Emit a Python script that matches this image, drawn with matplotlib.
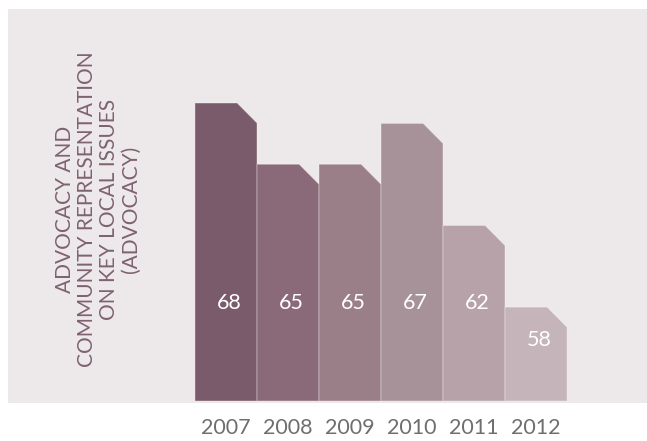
import matplotlib
matplotlib.use('Agg')
import matplotlib.pyplot as plt
from matplotlib.patches import Polygon, Rectangle

years = ['2007', '2008', '2009', '2010', '2011', '2012']
scores = [68, 65, 65, 67, 62, 58]
bar_colors = ['#7a5b6b', '#8a6a79', '#9a7f89', '#a89299', '#b8a2aa', '#c5b4ba']
ylabel_text = 'ADVOCACY AND\nCOMMUNITY REPRESENTATION\nON KEY LOCAL ISSUES\n(ADVOCACY)'

W, H = 647, 441
fig = plt.figure(figsize=(W / 100, H / 100), dpi=100, facecolor='white')

# grey panel behind the chart
fig.patches.append(Rectangle((8 / W, 1 - 403 / H), 1, (403 - 9) / H,
                             transform=fig.transFigure, facecolor='#ede9ea',
                             edgecolor='none', zorder=-5))

# bar area: 195..567 px wide, 101..401 px tall
ax = fig.add_axes([195 / W, 1 - 401 / H, (567 - 195) / W, 300 / H])
ax.set_zorder(2)
ax.set_xlim(0, len(years))
ybase = 53.4
ax.set_ylim(ybase, ybase + 300 / 20.41)
ax.axis('off')

cut_x = 0.32   # chamfer on the top-right corner, in bar widths
cut_y = 0.98   # chamfer height, in score units

for i, (yr, v, c) in enumerate(zip(years, scores, bar_colors)):
    pts = [(i, ybase), (i, v), (i + 1 - cut_x, v), (i + 1, v - cut_y), (i + 1, ybase)]
    ax.add_patch(Polygon(pts, closed=True, facecolor=c,
                         edgecolor=(1, 1, 1, 0.3), linewidth=0.8))
    ly = min(58.2, v - 1.6)
    ax.text(i + 0.55, ly, str(v), color='white', fontsize=15.5,
            family='Lato', ha='center', va='center')
    ax.text(i + 0.5, ybase - 27 / 20.41, yr, color='#6e6e6e', fontsize=15.5,
            family='Lato', ha='center', va='center', clip_on=False)

fig.text(98 / W, 1 - 209 / H, ylabel_text, rotation=90, color='#7f6272',
         fontsize=15, family='Lato', ha='center', va='center',
         multialignment='center', linespacing=1.12, zorder=3)

fig.savefig('out.png', dpi=100, facecolor='white')
